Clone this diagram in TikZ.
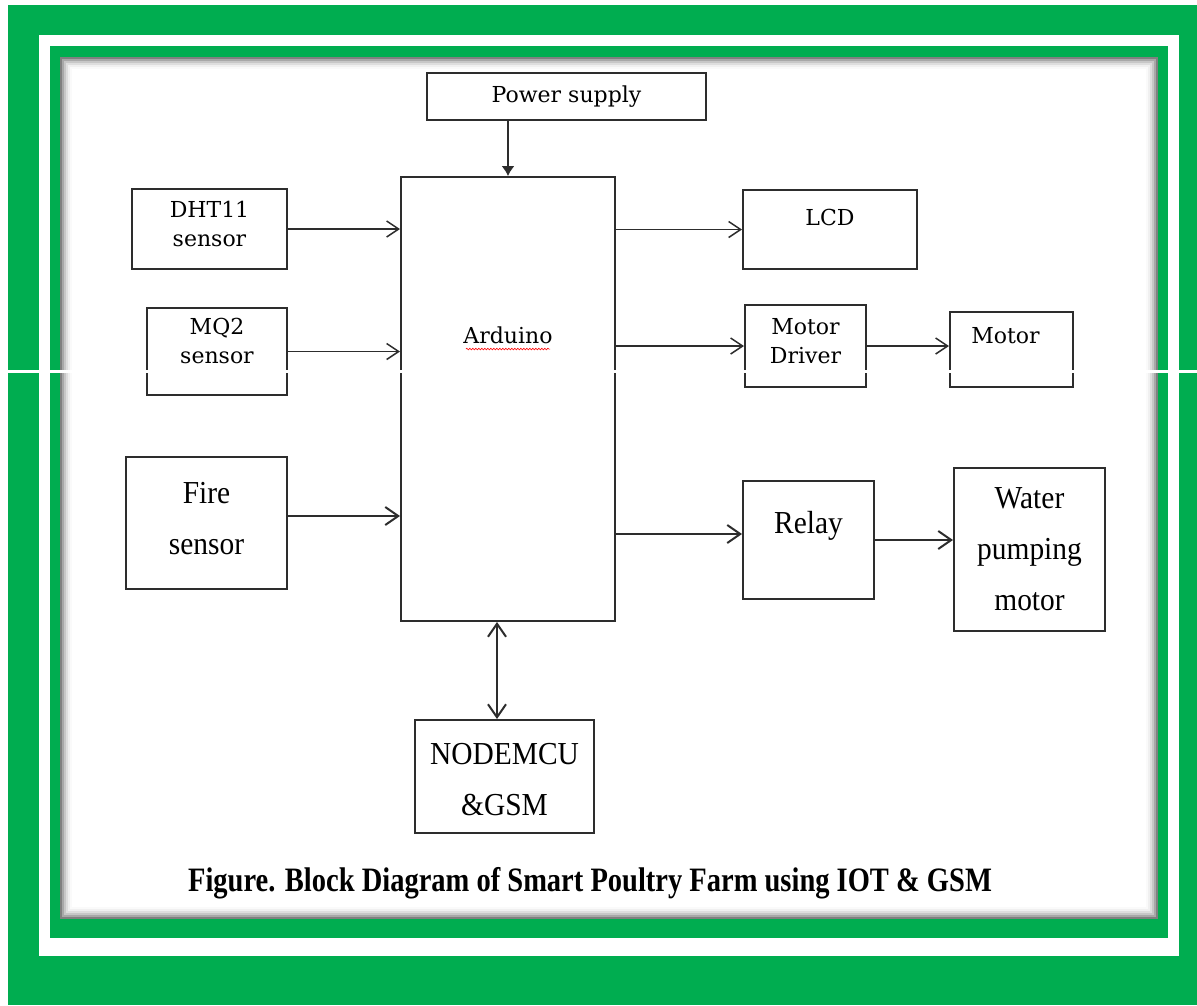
\documentclass[tikz,border=0pt]{standalone}
\usepackage{fontspec}
\setmainfont{Liberation Serif}
\newfontfamily\labelfont{DejaVu Serif}
\newfontfamily\bigfont[FakeStretch=0.92]{Liberation Serif}
\usetikzlibrary{arrows.meta,decorations.pathmorphing}

\definecolor{framegreen}{RGB}{0,173,80}
\definecolor{boxline}{RGB}{45,45,45}

\tikzset{
  blk/.style={draw=boxline, line width=2pt, fill=white, inner sep=0pt},
  txt/.style={font=\labelfont\fontsize{22}{29}\selectfont, align=center},
  bigtxt/.style={font=\bigfont\fontsize{32}{51}\selectfont, align=center},
  thinarrow/.style={draw=boxline, line width=1.5pt, -{Straight Barb[length=12pt,width=16pt]}},
  thickarrow/.style={draw=boxline, line width=2pt, -{Straight Barb[length=13pt,width=18pt]}},
}

\begin{document}
\begin{tikzpicture}[x=1pt, y=-1pt]
\useasboundingbox (0,0) rectangle (1197,1005);

% Rahmen
\fill[white] (0,0) rectangle (1197,1005);
\fill[framegreen] (8,5) rectangle (1197,1005);
\fill[white] (39,35) rectangle (1179,956);
\fill[framegreen] (50,46) rectangle (1168,938);
% Schatten innen
\foreach \i/\c in {0/50,2/34,4/22,6/13,8/6,10/2}
  \fill[black!\c] (60+\i,57+\i) rectangle (1158-\i,919-\i);
\fill[white] (72,69) rectangle (1146,907);

% Bloecke
\node[blk, minimum width=279pt, minimum height=47pt, label={[txt]center:Power supply}] (psu) at (566.5,96.5) {};
\node[blk, minimum width=214pt, minimum height=444pt, label={[txt, name=ardtxt, yshift=64pt]center:Arduino}] (ard) at (508,399) {};

\node[blk, minimum width=155pt, minimum height=80pt, label={[txt, yshift=5pt]center:{DHT11\\sensor}}] (dht) at (209.5,229) {};
\node[blk, minimum width=140pt, minimum height=87pt, label={[txt, yshift=11pt]center:{MQ2\\sensor}}] (mq) at (217,351.5) {};
\node[blk, minimum width=161pt, minimum height=132pt, label={[bigtxt, yshift=4pt]center:{Fire\\sensor}}] (fire) at (206.5,523) {};

\node[blk, minimum width=174pt, minimum height=79pt, label={[txt, yshift=12pt]center:LCD}] (lcd) at (830,229.5) {};
\node[blk, minimum width=121pt, minimum height=82pt, label={[txt, yshift=5pt]center:{Motor\\Driver}}] (mdrv) at (805.5,346) {};
\node[blk, minimum width=123pt, minimum height=75pt, label={[txt, yshift=14pt, xshift=-6pt]center:Motor}] (motor) at (1011.5,349.5) {};
\node[blk, minimum width=131pt, minimum height=118pt, label={[bigtxt, yshift=14pt]center:Relay}] (relay) at (808.5,540) {};
\node[blk, minimum width=151pt, minimum height=163pt, label={[bigtxt]center:{Water\\pumping\\motor}}] (pump) at (1029.5,549.5) {};

\node[blk, minimum width=179pt, minimum height=113pt, label={[bigtxt, yshift=-3pt]center:{NODEMCU\\\&GSM}}] (mcu) at (504.5,776.5) {};

% Rechtschreib-Wellenlinie
\draw[red, line width=0.6pt, decorate, decoration={snake, segment length=3pt, amplitude=0.8pt}]
  ([yshift=-2pt]ardtxt.south west) ++(6,0) -- ([yshift=-2pt, xshift=-6pt]ardtxt.south east);

% Verbindungen
\draw[draw=boxline, line width=1.5pt, -{Latex[length=10pt,width=13pt]}] (ard.north |- psu.south) -- (ard.north);
\draw[thinarrow] (dht.east) -- (dht.east -| ard.west);
\draw[thinarrow] (mq.east) -- (mq.east -| ard.west);
\draw[thickarrow] ([yshift=7pt]fire.east) -- ([yshift=7pt]fire.east -| ard.west);
\draw[thinarrow] (lcd.west -| ard.east) -- (lcd.west);
\draw[thinarrow] (mdrv.west -| ard.east) -- (mdrv.west);
\draw[thinarrow] (mdrv.east) -- (mdrv.east -| motor.west);
\draw[thickarrow] ([yshift=6pt]relay.west -| ard.east) -- ([yshift=6pt]relay.west);
\draw[thickarrow] (relay.east) -- (relay.east -| pump.west);
\draw[thickarrow, {Straight Barb[length=13pt,width=18pt]}-{Straight Barb[length=13pt,width=18pt]}]
  ([xshift=-11pt]ard.south) -- ([xshift=-11pt]ard.south |- mcu.north);

% Bildunterschrift
\node[anchor=base, font=\bfseries\fontsize{28.5}{34}\selectfont] (caption) at (590,891)
  {\scalebox{1}[1.2]{Figure. Block Diagram of Smart Poultry Farm using IOT \& GSM}};

% Scan-Linie
\fill[white] (8,370) rectangle (1197,373);

\end{tikzpicture}
\end{document}
